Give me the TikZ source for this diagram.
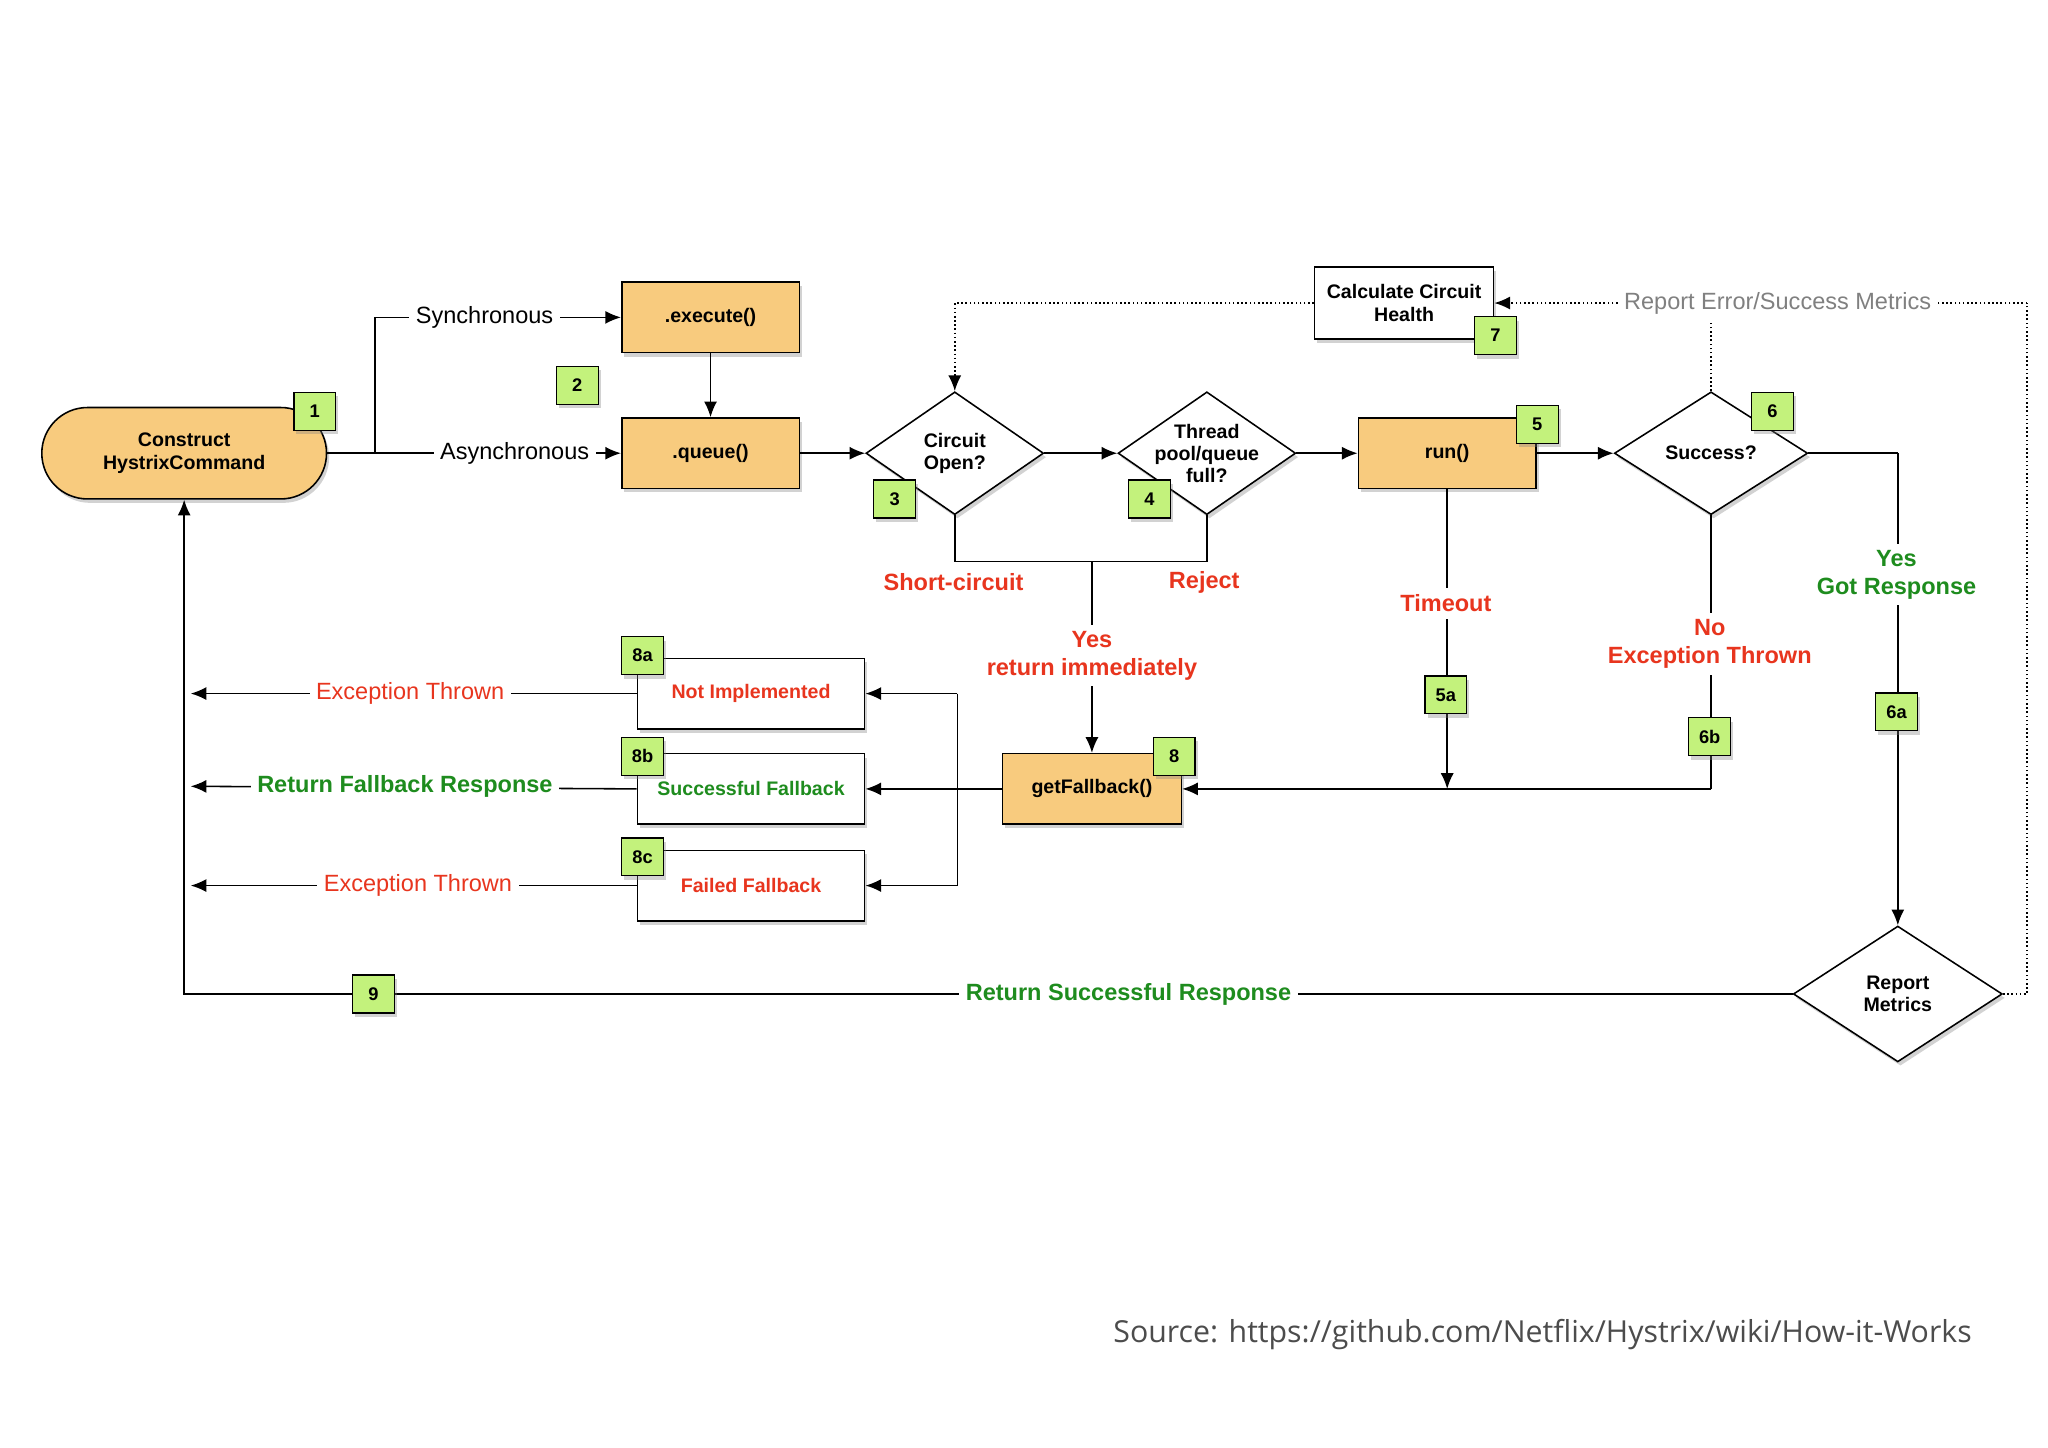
\documentclass[tikz,border=0pt]{standalone}
\usepackage{fontspec}
\setmainfont{Liberation Sans}
\newfontfamily\srcfont{Open Sans}
\usetikzlibrary{shapes.geometric,arrows.meta,shadows}
\definecolor{orng}{HTML}{F8CB7E}
\definecolor{bdg}{HTML}{C3F27C}
\definecolor{rd}{HTML}{E8351E}
\definecolor{gr}{HTML}{1E8C1E}
\begin{document}
\begin{tikzpicture}[x=1pt,y=-1pt,
 shd/.style={drop shadow={shadow xshift=2pt,shadow yshift=-3pt,opacity=0.35}},
 box/.style={draw,line width=1.2pt,minimum width=136pt,minimum height=54pt,font=\fontsize{15}{17}\selectfont\bfseries,align=center,shd},
 obox/.style={box,fill=orng},
 wbox/.style={box,fill=white,minimum width=174pt},
 dia/.style={diamond,draw,line width=1.2pt,fill=white,inner sep=0pt,minimum width=136pt,minimum height=94pt,aspect=1.45,font=\fontsize{15}{17}\selectfont\bfseries,align=center,shd},
 bd/.style={draw,line width=1pt,fill=bdg,minimum width=32pt,minimum height=29pt,inner sep=0pt,font=\fontsize{14}{16}\selectfont\bfseries,shd},
 ln/.style={line width=1.2pt},
 ar/.style={ln,-{Latex[length=12pt,width=10pt]}},
 dt/.style={line width=1.2pt,dotted},
 lab/.style={fill=white,inner sep=5pt,font=\fontsize{18}{20}\selectfont,align=center},
 blab/.style={lab,font=\fontsize{18}{21}\selectfont\bfseries}]
\useasboundingbox[fill=white] (0,0) rectangle (1568,1108);
% nodes
\node[obox,rounded corners=35pt,minimum width=218pt,minimum height=70pt] (cmd) at (141,347) {Construct\\HystrixCommand};
\node[obox] (exe) at (544,243) {.execute()};
\node[obox] (que) at (544,347) {.queue()};
\node[dia] (co) at (731,347) {Circuit\\Open?};
\node[dia,inner sep=-9pt] (tp) at (924,347) {Thread\\pool/queue\\full?};
\node[obox] (run) at (1108,347) {run()};
\node[dia,minimum width=148pt] (suc) at (1310,347) {Success?};
\node[box,fill=white,minimum width=137pt,minimum height=55pt] (calc) at (1075,232) {Calculate Circuit\\Health};
\node[obox,minimum width=137pt] (gf) at (836,604) {getFallback()};
\node[wbox,text=rd] (ni) at (575,531) {Not Implemented};
\node[wbox,text=gr] (sf) at (575,604) {Successful Fallback};
\node[wbox,text=rd] (ff) at (575,678) {Failed Fallback};
\node[dia,minimum width=160pt,minimum height=104pt,aspect=1.54] (rm) at (1453,761) {Report\\Metrics};
% coordinates
\coordinate (br) at (287,347);
\coordinate (cb) at (731,430);
\coordinate (tb) at (924,430);
\coordinate (mj) at (836,430);
\coordinate (rj) at (1108,604);
\coordinate (sj) at (1310,604);
\coordinate (s6) at (1453,347);
\coordinate (fj) at (733,604);
\coordinate (ej1) at (146,531);
\coordinate (ej2) at (146,602);
\coordinate (ej3) at (146,678);
\coordinate (bl) at (141,761);
\coordinate (dr) at (1552,761);
\coordinate (dtr) at (1552,232);
\coordinate (dst) at (1310,232);
\coordinate (dl) at (731,232);
% edges
\draw[ln] (cmd.east) -- (br);
\draw[ar] (br) |- (exe.west);
\draw[ar] (br) -- (que.west);
\draw[ar] (exe) -- (que);
\draw[ar] (que) -- (co);
\draw[ar] (co) -- (tp);
\draw[ar] (tp) -- (run);
\draw[ar] (run) -- (suc);
\draw[ln] (co.south) -- (cb) -- (tb) -- (tp.south);
\draw[ar] (mj) -- (gf.north);
\draw[ar] (run.south) -- (rj);
\draw[ln] (suc.south) -- (sj);
\draw[ar] (sj) -- (gf.east);
\draw[ln] (suc.east) -- (s6);
\draw[ar] (s6) -- (rm.north);
\draw[ar] (rm.west) -- (bl) -- (cmd.south);
\draw[dt] (rm.east) -- (dr) -- (dtr);
\draw[dt,-{Latex[length=12pt,width=10pt]}] (dtr) -- (calc.east);
\draw[dt] (suc.north) -- (dst);
\draw[dt,-{Latex[length=12pt,width=10pt]}] (calc.west) -- (dl) -- (co.north);
\draw[ar] (gf.west) -- (sf.east);
\draw[ar] (fj |- ni.east) -- (ni.east);
\draw[ar] (fj |- ff.east) -- (ff.east);
\draw[ln] (fj |- ni.east) -- (fj |- ff.east);
\draw[ar] (ni.west) -- (ej1);
\draw[ar] (sf.west) -- (ej2);
\draw[ar] (ff.west) -- (ej3);
% labels
\node[lab] at (371,243) {Synchronous};
\node[lab] at (394,347) {Asynchronous};
\node[blab,text=rd,fill=none] at (730,446) {Short-circuit};
\node[blab,text=rd,fill=none] at (922,446) {Reject};
\node[blab,text=rd] at (836,502) {Yes\\return immediately};
\node[blab,text=rd] at (1107,462) {Timeout};
\node[blab,text=rd] at (1309,493) {No\\Exception Thrown};
\node[blab,text=gr] at (1452,440) {Yes\\Got Response};
\node[blab,text=gr] at (864,761) {Return Successful Response};
\node[lab,text=gray] at (1361,232) {Report Error/Success Metrics};
\node[lab,text=rd] at (314,531) {Exception Thrown};
\node[blab,text=gr] at (310,602) {Return Fallback Response};
\node[lab,text=rd] at (320,678) {Exception Thrown};
% badges
\node[bd] (b1) at (241,315) {1};
\node[bd] (b2) at (442,295) {2};
\node[bd] (b3) at (685,382) {3};
\node[bd] (b4) at (880,382) {4};
\node[bd] (b5) at (1177,325) {5};
\node[bd] (b6) at (1357,315) {6};
\node[bd] (b7) at (1145,257) {7};
\node[bd] (b8) at (899,579) {8};
\node[bd] (b8a) at (492,502) {8a};
\node[bd] (b8b) at (492,579) {8b};
\node[bd] (b8c) at (492,656) {8c};
\node[bd] (b5a) at (1107,532) {5a};
\node[bd] (b6b) at (1309,564) {6b};
\node[bd] (b6a) at (1452,545) {6a};
\node[bd] (b9) at (286,761) {9};
\node[text=black!70,font=\srcfont\fontsize{23.2}{28}\selectfont] (src) at (1181,1022) {Source: https://github.com/Netflix/Hystrix/wiki/How-it-Works};
\end{tikzpicture}
\end{document}
